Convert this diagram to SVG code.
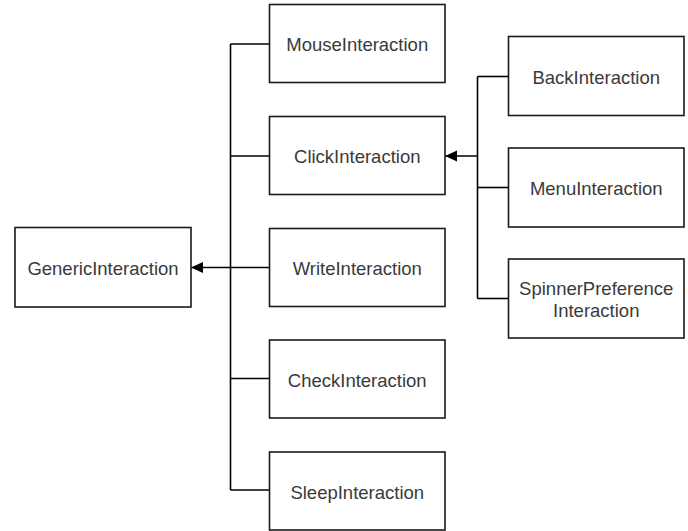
<svg xmlns="http://www.w3.org/2000/svg" width="688" height="531" viewBox="0 0 688 531">
  <style>
    .box { fill: #ffffff; stroke: #1a1a1a; stroke-width: 1.6; }
    .label { font-family: "Liberation Sans", Arial, sans-serif; font-size: 18.5px; fill: #3a3a3a; text-anchor: middle; }
    .wire { fill: none; stroke: #000000; stroke-width: 1.6; }
  </style>
  <defs>
    <marker id="head" viewBox="0 0 12 12" refX="12" refY="6" markerWidth="12" markerHeight="12" markerUnits="userSpaceOnUse" orient="auto">
      <path d="M0,0.5 L12,6 L0,11.5 Z" fill="#000000"/>
    </marker>
  </defs>
  <rect width="688" height="531" fill="#ffffff"/>

  <!-- inheritance connectors -->
  <g id="connectors">
    <!-- left hierarchy: trunk and branches -->
    <path class="wire" d="M230.5,44 V490"/>
    <path class="wire" d="M230.5,44 H269.5"/>
    <path class="wire" d="M230.5,156 H269.5"/>
    <path class="wire" d="M230.5,378.5 H269.5"/>
    <path class="wire" d="M230.5,490 H269.5"/>
    <path class="wire" d="M269.5,267.5 H191" marker-end="url(#head)"/>
    <!-- right hierarchy: trunk and branches -->
    <path class="wire" d="M477.5,76.5 V298.5"/>
    <path class="wire" d="M477.5,76.5 H508.5"/>
    <path class="wire" d="M477.5,187.5 H508.5"/>
    <path class="wire" d="M477.5,298.5 H508.5"/>
    <path class="wire" d="M477.5,156 H445" marker-end="url(#head)"/>
  </g>

  <g id="generic-interaction">
    <rect class="box" x="15" y="227.5" width="176" height="79.5"/>
    <text class="label" x="103" y="274.5">GenericInteraction</text>
  </g>

  <g id="mouse-interaction">
    <rect class="box" x="269.5" y="4.5" width="175.5" height="78"/>
    <text class="label" x="357.25" y="51">MouseInteraction</text>
  </g>

  <g id="click-interaction">
    <rect class="box" x="269.5" y="116.5" width="175.5" height="78"/>
    <text class="label" x="357.25" y="163">ClickInteraction</text>
  </g>

  <g id="write-interaction">
    <rect class="box" x="269.5" y="228.5" width="175.5" height="78"/>
    <text class="label" x="357.25" y="275">WriteInteraction</text>
  </g>

  <g id="check-interaction">
    <rect class="box" x="269.5" y="340" width="175.5" height="78"/>
    <text class="label" x="357.25" y="386.5">CheckInteraction</text>
  </g>

  <g id="sleep-interaction">
    <rect class="box" x="269.5" y="452" width="175.5" height="78"/>
    <text class="label" x="357.25" y="498.5">SleepInteraction</text>
  </g>

  <g id="back-interaction">
    <rect class="box" x="508.5" y="36.5" width="175.5" height="79"/>
    <text class="label" x="596.25" y="83.5">BackInteraction</text>
  </g>

  <g id="menu-interaction">
    <rect class="box" x="508.5" y="148" width="175.5" height="79"/>
    <text class="label" x="596.25" y="195">MenuInteraction</text>
  </g>

  <g id="spinner-preference-interaction">
    <rect class="box" x="508.5" y="259" width="175.5" height="79"/>
    <text class="label" x="596.25" y="295">SpinnerPreference</text>
    <text class="label" x="596.25" y="317">Interaction</text>
  </g>
</svg>
